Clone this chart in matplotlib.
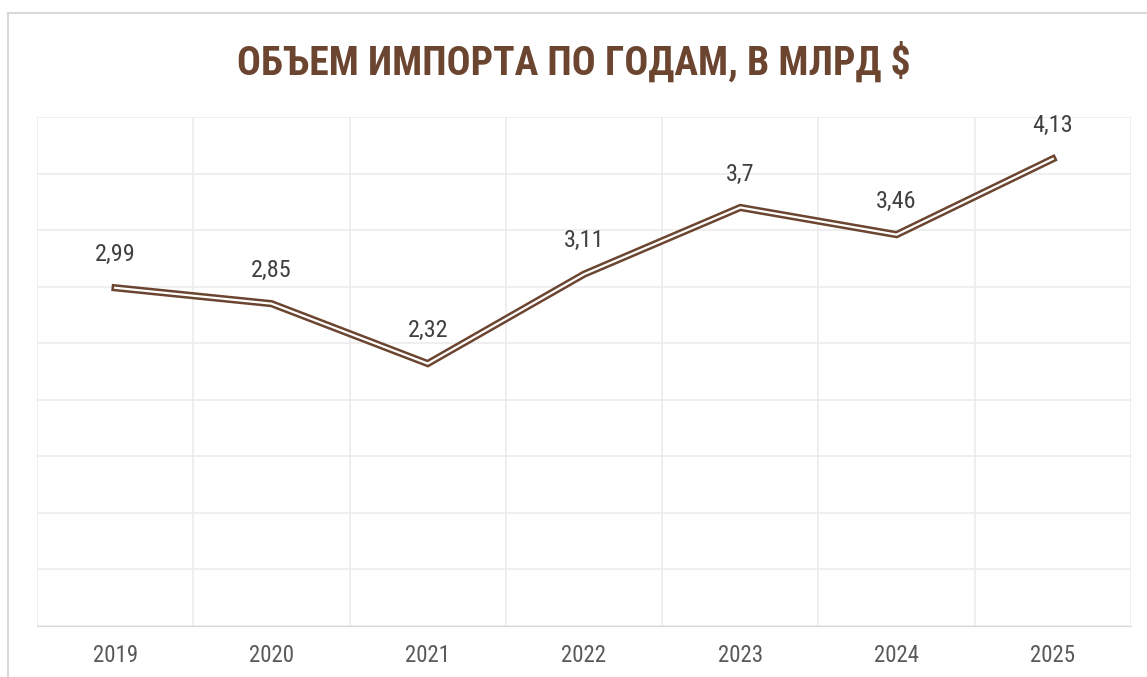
import matplotlib.pyplot as plt
from matplotlib.patches import Rectangle
from matplotlib import font_manager

years = ["2019", "2020", "2021", "2022", "2023", "2024", "2025"]
imports = [2.99, 2.85, 2.32, 3.11, 3.70, 3.46, 4.13]
labels = ["2,99", "2,85", "2,32", "3,11", "3,7", "3,46", "4,13"]

brown = "#6b4530"
text_gray = "#404040"
grid_gray = "#ececec"

names = {f.name for f in font_manager.fontManager.ttflist}
narrow = [n for n in ["Liberation Sans Narrow", "Roboto Condensed", "Roboto"] if n in names]
plt.rcParams["font.family"] = narrow + ["DejaVu Sans"]

fig = plt.figure(figsize=(11.47, 6.77), dpi=100)
fig.patches.append(Rectangle((8 / 1147, -0.1), 1.2, 1 - 13 / 677 + 0.1, transform=fig.transFigure,
                             fill=False, edgecolor="#d9d9d9", linewidth=1.5))

ax = fig.add_axes([37 / 1147, 1 - 626 / 677, (1131 - 37) / 1147, (626 - 117) / 677])
x = range(len(years))

# double ("compound") line: brown thick stroke with a white core
ax.plot(x, imports, color=brown, linewidth=5.2, solid_joinstyle="miter", zorder=3)
ax.plot(x, imports, color="white", linewidth=1.6, solid_joinstyle="miter", zorder=4)

for xi, v, lab in zip(x, imports, labels):
    ax.annotate(lab, (xi, v), xytext=(0, 24), textcoords="offset points",
                ha="center", va="center", fontsize=17.5, color=text_gray)

ax.set_xlim(-0.5, len(years) - 0.5)
ax.set_ylim(0, 4.5)
ax.set_yticks([i * 0.5 for i in range(10)])
ax.set_xticks([i - 0.5 for i in range(len(years) + 1)], minor=False)
ax.set_xticklabels([])
ax.set_xticks(list(x), minor=True)
ax.set_xticklabels(years, minor=True, fontsize=16.5, color="#595959")
ax.tick_params(axis="x", which="both", length=0, pad=13)
ax.tick_params(axis="y", length=0, labelleft=False)
ax.grid(True, which="major", color=grid_gray, linewidth=1.2)
for side in ["top", "right", "left"]:
    ax.spines[side].set_visible(False)
ax.spines["bottom"].set_color("#d9d9d9")
ax.set_axisbelow(True)

fig.text(0.5, 1 - 62 / 677, "ОБЪЕМ ИМПОРТА ПО ГОДАМ, В МЛРД $", ha="center", va="center",
         fontsize=28.5, color=brown, fontweight="bold")

fig.savefig("out.png", dpi=100)
